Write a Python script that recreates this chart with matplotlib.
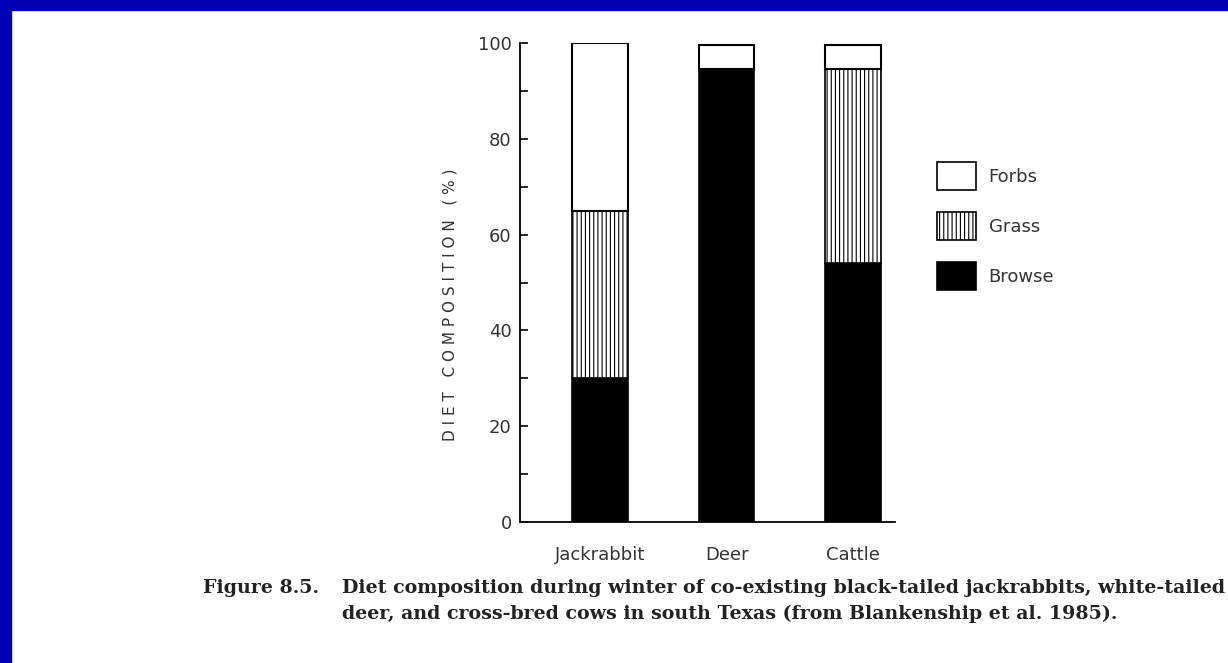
import numpy as np
import matplotlib.pyplot as plt
from matplotlib.patches import Patch, Rectangle

# diet composition (%)
animals = ['Jackrabbit', 'Deer', 'Cattle']
browse = [30, 94.5, 54]
grass = [35, 0, 40.5]
forbs = [35, 5, 5]

yticks = [0, 20, 40, 60, 80, 100]

plt.rcParams['hatch.linewidth'] = 0.8

fig = plt.figure(figsize=(12.28, 6.63), dpi=100)
fig.patch.set_facecolor('white')

# blue slide frame on top and left
fig.add_artist(Rectangle((0, 1 - 10/663), 1, 10/663, transform=fig.transFigure,
                         color='#0000b0', zorder=0))
fig.add_artist(Rectangle((0, 0), 11/1228, 1, transform=fig.transFigure,
                         color='#0000b8', zorder=0))

ax = fig.add_axes([520/1228, 141/663, 375/1228, 479/663])

x = np.arange(len(animals))
w = 0.44
b1 = np.array(browse)
b2 = b1 + np.array(grass)
ax.bar(x, browse, w, color='black', edgecolor='black', lw=1.2)
ax.bar(x, grass, w, bottom=b1, color='white', edgecolor='black', hatch='||||', lw=1.2)
ax.bar(x, forbs, w, bottom=b2, color='white', edgecolor='black', lw=1.5)

ax.set_xlim(-0.632, 2.33)
ax.set_ylim(0, 100)
ax.spines['top'].set_visible(False)
ax.spines['right'].set_visible(False)
ax.spines['left'].set_linewidth(1.3)
ax.spines['bottom'].set_linewidth(1.3)

ax.set_yticks(yticks)
ax.set_yticks(np.arange(10, 100, 20), minor=True)
ax.tick_params(axis='y', which='both', direction='in', length=6, width=1.2,
               labelsize=13, labelcolor='#333333', pad=6)
ax.set_xticks(x)
ax.set_xticklabels(animals)
ax.tick_params(axis='x', length=0, labelsize=13, labelcolor='#333333', pad=17)

fig.text(450/1228, 1 - 305/663, 'D I E T   C O M P O S I T I O N   ( % )',
         rotation=90, ha='center', va='center', fontsize=11, color='#333333')

handles = [Patch(facecolor='white', edgecolor='black', lw=1.2, label='Forbs'),
           Patch(facecolor='white', edgecolor='black', lw=1.2, hatch='||||', label='Grass'),
           Patch(facecolor='black', edgecolor='black', lw=1.2, label='Browse')]
fig.legend(handles=handles, loc='upper left', bbox_to_anchor=(921/1228, 1 - 146/663),
           frameon=False, fontsize=13, handlelength=2.15, handleheight=2.02,
           labelspacing=1.2, handletextpad=0.7, labelcolor='#333333')

cap = dict(fontsize=13.7, fontweight='bold', family='DejaVu Serif', va='center',
           color='#222222')
fig.text(203/1228, 1 - 588/663, 'Figure 8.5.', **cap)
fig.text(342/1228, 1 - 588/663,
         'Diet composition during winter of co-existing black-tailed jackrabbits, white-tailed',
         **cap)
fig.text(342/1228, 1 - 614/663,
         'deer, and cross-bred cows in south Texas (from Blankenship et al. 1985).', **cap)

plt.savefig('out.png', dpi=100)
